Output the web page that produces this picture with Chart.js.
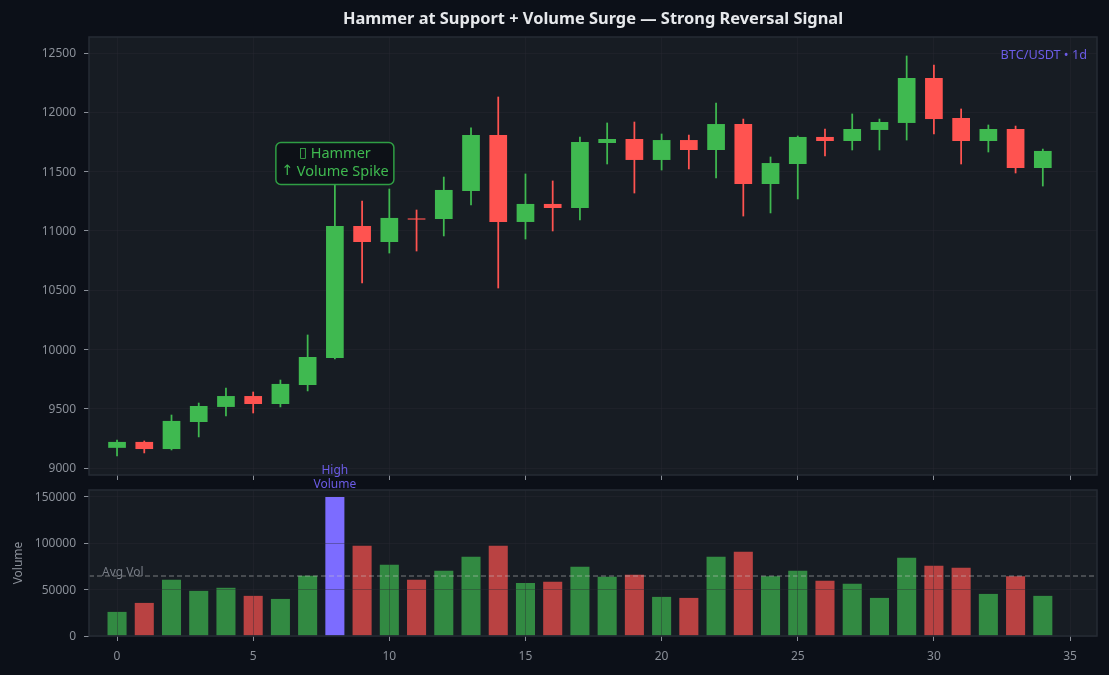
<!DOCTYPE html>
<html>
<head>
<meta charset="utf-8">
<script src="https://cdn.jsdelivr.net/npm/chart.js@4/dist/chart.umd.min.js"></script>
<style>
html,body{margin:0;padding:0;background:#0c1018;width:1109px;height:675px;overflow:hidden}
#wrap{position:relative;width:1109px;height:675px;background:#0c1018}
canvas{position:absolute;left:0}
#priceBox{position:absolute;left:0;top:0;width:1109px;height:493px}
#volBox{position:absolute;left:0;top:460px;width:1109px;height:215px}
</style>
</head>
<body>
<div id="wrap">
  <div id="priceBox"><canvas id="price"></canvas></div>
  <div id="volBox"><canvas id="vol"></canvas></div>
</div>
<script>
const indices = [0,1,2,3,4,5,6,7,8,9,10,11,12,13,14,15,16,17,18,19,20,21,22,23,24,25,26,27,28,29,30,31,32,33,34];
const opens  = [9170,9220,9160,9388,9515,9607,9540,9700,9928,11041,10906,11105,11100,11336,11808,11075,11227,11193,11741,11775,11598,11766,11682,11901,11395,11564,11792,11758,11851,11910,12289,11952,11758,11859,11530];
const highs  = [9236,9228,9447,9548,9675,9641,9742,10122,11500,11252,11353,11176,11454,11868,12129,11480,11421,11792,11910,11918,11817,11808,12078,11943,11623,11800,11859,11986,11943,12475,12399,12028,11893,11884,11690];
const lows   = [9101,9127,9152,9262,9439,9464,9515,9650,9920,10560,10813,10830,10957,11218,10518,10931,10999,11092,11564,11319,11513,11522,11446,11125,11151,11269,11631,11682,11682,11766,11817,11564,11665,11488,11378];
const closes = [9220,9160,9397,9523,9607,9540,9709,9936,11041,10906,11109,11095,11345,11808,11075,11227,11193,11749,11775,11598,11766,11682,11901,11395,11572,11792,11758,11859,11918,12289,11943,11758,11859,11530,11674];
const volumes = [26000,35700,60600,48700,52000,43300,40000,65000,150000,97400,76800,60600,70300,85500,97400,57300,58400,74600,63800,66000,42200,41100,85500,90900,64500,70300,59500,56300,41100,84400,75700,73600,45400,64500,43300];
const avgVolume = 64700;
const spikeIndex = 8;
const xRange = [-1.03, 35.99];
const priceRange = [8941, 12635];
const volumeRange = [0, 157500];
const priceTicks = [9000,9500,10000,10500,11000,11500,12000,12500];
const volumeTicks = [0,50000,100000,150000];
const xTicks = [0,5,10,15,20,25,30,35];
const titleText = 'Hammer at Support + Volume Surge — Strong Reversal Signal';
const pairText = 'BTC/USDT • 1d';
const hammerLines = ['▯ Hammer', '↑ Volume Spike'];
const highVolLines = ['High', 'Volume'];
const avgText = 'Avg Vol';
const volumeTitle = 'Volume';

const FONT = '"Noto Sans", sans-serif';
const GREEN = '#3fb950', RED = '#ff5350', PURPLE = '#7c6cff';
const GREEN_V = 'rgba(63,185,80,0.7)', RED_V = 'rgba(255,83,80,0.7)';
const TEXT = '#8b9099', GRID = 'rgba(42,42,52,0.38)', SPINE = '#262b34', PANEL = '#171c23', TICK = '#8b9099';
const isUp = indices.map(i => closes[i] >= opens[i]);

function panelPlugin(extra){
  return {
    id:'panel',
    beforeDraw(c){
      const a=c.chartArea, g=c.ctx;
      g.save(); g.fillStyle=PANEL; g.fillRect(a.left,a.top,a.width,a.height); g.restore();
    },
    afterDraw(c){
      const a=c.chartArea, g=c.ctx;
      g.save(); g.strokeStyle=SPINE; g.lineWidth=1.5;
      g.strokeRect(a.left,a.top,a.width,a.height); g.restore();
      extra(c,g,a);
    }
  };
}
function xAxis(showLabels, h){
  return {
    type:'linear', min:xRange[0], max:xRange[1], offset:false,
    afterBuildTicks(s){ s.ticks = xTicks.map(v=>({value:v})); },
    afterFit(s){ s.height=h; },
    grid:{offset:false, color:GRID, lineWidth:1, tickColor:TICK, tickLength:5, tickWidth:1, z:showLabels?1:-1},
    border:{display:false},
    ticks:{display:showLabels, color:TEXT, font:{family:FONT,size:12}, padding:8, maxRotation:0, autoSkip:false}
  };
}
function yAxis(range, ticks, extra, z){
  return Object.assign({
    min:range[0], max:range[1],
    afterBuildTicks(s){ s.ticks = ticks.map(v=>({value:v})); },
    afterFit(s){ s.width=89; },
    grid:{color:GRID, lineWidth:1, tickColor:TICK, tickLength:5, tickWidth:1, z:z},
    border:{display:false},
    ticks:{color:TEXT, font:{family:FONT,size:12}, padding:8, labelOffset:0.7, callback:v=>String(v), autoSkip:false}
  }, extra||{});
}
function drawRuns(g,line,cx,y){
  const head=line[0], rest=line.slice(1);
  const headFont='14.5px "DejaVu Sans", sans-serif', restFont='14.5px '+FONT;
  g.font=headFont; const w1=g.measureText(head).width;
  g.font=restFont; const w2=g.measureText(rest).width;
  const x0=cx-(w1+w2)/2;
  g.textAlign='left';
  g.font=headFont; g.fillText(head,x0,y);
  g.font=restFont; g.fillText(rest,x0+w1,y);
}
Chart.defaults.animation=false;
Chart.defaults.responsive=false;

const priceCanvas=document.getElementById('price');
priceCanvas.width=1109; priceCanvas.height=493;
new Chart(priceCanvas,{
  type:'bar',
  data:{datasets:[
    {label:'wick', order:2, grouped:false, barThickness:1.1, borderSkipped:false, borderWidth:0,
     backgroundColor:indices.map(i=>isUp[i]?GREEN:RED),
     data:indices.map(i=>({x:i,y:[lows[i],highs[i]]}))},
    {label:'body', order:1, grouped:false, barPercentage:0.65, categoryPercentage:1, borderSkipped:false, borderWidth:0,
     backgroundColor:indices.map(i=>isUp[i]?GREEN:RED),
     data:indices.map(i=>({x:i,y:[opens[i],closes[i]]}))}
  ]},
  options:{
    devicePixelRatio:1,
    layout:{padding:{top:37,right:12,left:0,bottom:0}},
    plugins:{legend:{display:false},tooltip:{enabled:false},title:{display:false}},
    scales:{x:xAxis(false,18), y:yAxis(priceRange,priceTicks,null,-1)}
  },
  plugins:[panelPlugin((c,g,a)=>{
    g.save();
    g.textAlign='center'; g.textBaseline='middle';
    g.font='bold 16.4px '+FONT; g.fillStyle='#e6e8eb';
    g.fillText(titleText,(a.left+a.right)/2,19.5);
    g.textAlign='right'; g.font='12.7px '+FONT; g.fillStyle='#6c5ce7';
    g.fillText(pairText,1087,55.5);
    const cx=c.scales.x.getPixelForValue(spikeIndex);
    const w=118,h=42,top=142.5;
    g.beginPath(); g.roundRect(cx-w/2,top,w,h,5);
    g.fillStyle='#0d1117'; g.fill();
    g.lineWidth=1.5; g.strokeStyle='#2f9e44'; g.stroke();
    g.fillStyle=GREEN;
    drawRuns(g,hammerLines[0],cx,153.5);
    drawRuns(g,hammerLines[1],cx,171.5);
    g.restore();
  })]
});

const volCanvas=document.getElementById('vol');
volCanvas.width=1109; volCanvas.height=215;
new Chart(volCanvas,{
  type:'bar',
  data:{datasets:[
    {type:'line', order:1, data:[{x:xRange[0],y:avgVolume},{x:xRange[1],y:avgVolume}],
     borderColor:'rgba(200,200,200,0.55)', borderWidth:1.2, borderDash:[5,3], pointRadius:0, fill:false},
    {type:'bar', order:2, barPercentage:0.7, categoryPercentage:1, borderWidth:0,
     backgroundColor:indices.map(i=>i===spikeIndex?PURPLE:(isUp[i]?GREEN_V:RED_V)),
     data:indices.map(i=>({x:i,y:volumes[i]}))}
  ]},
  options:{
    devicePixelRatio:1,
    layout:{padding:{top:30,right:12,left:0,bottom:0}},
    plugins:{legend:{display:false},tooltip:{enabled:false},title:{display:false}},
    scales:{
      x:xAxis(true,39),
      y:yAxis(volumeRange,volumeTicks,{title:{display:true,text:volumeTitle,color:TEXT,font:{family:FONT,size:12},padding:{top:11,bottom:0}}},1)
    }
  },
  plugins:[panelPlugin((c,g,a)=>{
    g.save();
    g.textAlign='center'; g.textBaseline='middle'; g.font='12px '+FONT; g.fillStyle='#6c5ce7';
    const cx=c.scales.x.getPixelForValue(spikeIndex);
    const yt=c.scales.y.getPixelForValue(volumes[spikeIndex]);
    g.fillText(highVolLines[0],cx,yt-26);
    g.fillText(highVolLines[1],cx,yt-12);
    g.textAlign='left'; g.fillStyle='#767b84';
    g.fillText(avgText,c.scales.x.getPixelForValue(-0.55),c.scales.y.getPixelForValue(avgVolume)-3.5);
    g.restore();
  })]
});
</script>
</body>
</html>
